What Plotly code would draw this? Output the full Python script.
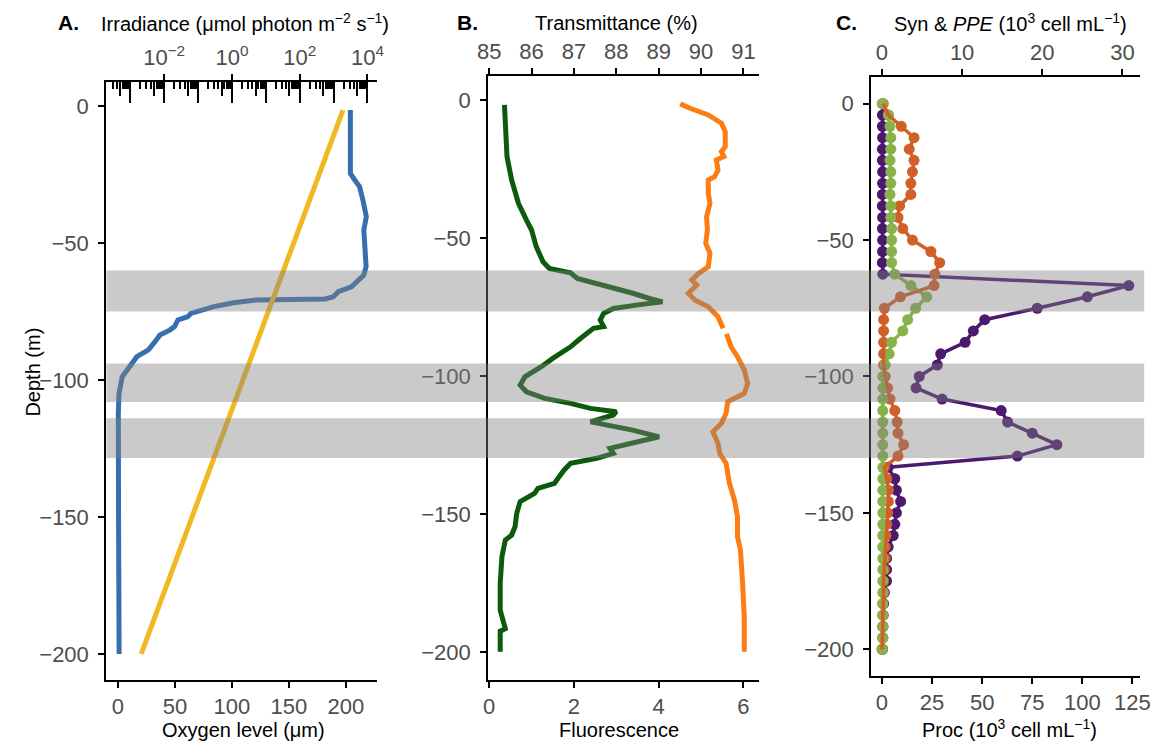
import plotly.graph_objects as go

W, H = 1163, 743
FONT = "Liberation Sans, Arial, sans-serif"
TICKC = "#4D4D4D"

# ---------------- Panel A data ----------------
oxy_depth = [-1.5, -24.6, -27, -29.4, -34.3, -40.4, -45.3, -51.3, -58.6, -61.7, -63.5, -66,
             -67.8, -69.6, -70.4, -70.8, -70.8, -71.8, -73.2, -75.7, -76.9, -78.1, -80.5,
             -81.8, -83.6, -86, -89, -91.5, -94.5, -98.8, -104.9, -112, -150, -200]
oxy_level = [204, 204, 207.8, 212, 215, 218, 215.8, 216.4, 217.8, 215.8, 210.6, 204.9,
             193.4, 189, 182, 147, 121.6, 101.4, 84.2, 64, 61.2, 52.6, 49.7,
             45.4, 36.8, 32.5, 26.7, 16.6, 10.9, 3.7, 0.9, 0.3, 0.5, 1.0]
irr_depth = [-1.5, -200]
irr_value = [1900, 0.0021]

# ---------------- Panel B data ----------------
fl_depth = [-1.8, -10.9, -20.5, -29, -37.4, -43.5, -47.1, -53.1, -58.6, -61, -62.6, -64.6,
            -67.6, -70, -71.9, -73.1, -74.3, -75.5, -77.3, -79.7, -82.1, -82.7, -86.3, -89.4,
            -93.6, -96.6, -100.3, -103.3, -105.7, -108.1, -109.9, -111.7, -112.9, -114.1,
            -116.6, -117.8, -119.6, -122, -124.4, -126.2, -128, -129.8, -131.6, -134, -137.1,
            -138.9, -140.7, -142.5, -145.5, -149.7, -154.6, -157.6, -159.4, -165.5, -175.1,
            -184.8, -191.5, -192.4, -199.9]
fl_value = [0.36, 0.38, 0.42, 0.53, 0.69, 0.88, 1.0, 1.11, 1.27, 1.42, 1.92, 2.08,
            2.85, 3.39, 3.78, 4.09, 3.47, 2.93, 2.70, 2.62, 2.70, 2.46, 2.16, 1.92,
            1.50, 1.23, 0.84, 0.73, 0.88, 1.31, 1.92, 2.39, 3.0, 2.93,
            2.39, 2.85, 3.39, 4.01, 3.31, 2.85, 2.93, 2.54, 1.92, 1.77, 1.62,
            1.54, 1.15, 1.07, 0.73, 0.65, 0.61, 0.53, 0.38, 0.30, 0.26,
            0.26, 0.38, 0.26, 0.26]
tr_depth = [-1.4, -3, -5.4, -8.4, -11.5, -16.9, -18.7, -20.5, -21.7, -25.4, -27.8, -29,
            -33.8, -37.4, -42.3, -47.1, -51.9, -55.5, -60.4, -62.8, -65.2, -67, -70, -72.5,
            -74.9, -78.5, -82.7, None, -84.7, -89.4, -93, -97.8, -102.7, -106.3, -109.3,
            -113.5, -117.1, -120.2, -124.4, -128, -131.6, -138.9, -145, -151, -158.2, -163,
            -175.1, -187.2, -199.9]
tr_value = [89.51, 89.74, 90.17, 90.48, 90.57, 90.57, 90.48, 90.54, 90.36, 90.40, 90.32, 90.17,
            90.17, 90.21, 90.13, 90.15, 90.11, 90.21, 90.17, 89.94, 89.78, 89.90, 89.70, 89.86,
            90.17, 90.40, 90.52, None, 90.60, 90.71, 90.86, 91.02, 91.10, 91.02, 90.63,
            90.59, 90.48, 90.28, 90.40, 90.44, 90.59, 90.67, 90.79, 90.86, 90.86, 90.93,
            90.98, 91.02, 91.02]

# ---------------- Panel C data ----------------
c_depth = [0, -4.2, -8.3, -12.5, -16.7, -20.8, -25, -29.2, -33.3, -37.5, -41.7, -45.8, -50,
           -54.2, -58.3, -62.5, -66.7, -70.8, -75, -79.2, -83.3, -87.5, -91.7, -95.8, -100,
           -104.2, -108.3, -112.5, -116.7, -120.8, -125, -129.2, -133.3, -137.5, -141.7,
           -145.8, -150, -154.2, -158.3, -162.5, -166.7, -170.8, -175, -179.2, -183.3,
           -187.5, -191.7, -195.8, -200]
proc = [0.3, 0.2, 0.2, 0.3, 0.2, 0.2, 0.3, 0.3, 0.2, 0.2, 0.3, 0.2, 0.3,
        0.3, 0.2, 0.4, 123.2, 102.5, 77.5, 51.3, 45.6, 41.5, 29.3, 27.6, 18.6,
        17.0, 30.0, 59.5, 62.7, 75.0, 87.3, 67.6, 3.1, 6.4, 7.2,
        9.3, 7.2, 6.4, 5.6, 3.1, 2.3, 2.3, 2.3, 1.2, 0.8,
        0.6, 0.5, 0.4, 0.3]
syn = [0.04, 0.8, 1.0, 1.1, 1.1, 1.0, 1.1, 1.1, 1.0, 1.1, 1.1, 1.2, 1.2,
       1.2, 1.2, 1.6, 3.6, 5.6, 4.2, 3.2, 2.6, 1.2, 0.9, 0.4, 0.1,
       0.1, 0.1, 0.1, 0.1, 0.1, 0.1, 0.1, 0.1, 0.1, 0.1,
       0.1, 0.1, 0.1, 0.1, 0.1, 0.1, 0.1, 0.1, 0.1, 0.1,
       0.1, 0.1, 0.1, 0.05]
ppe = [0.16, 0.8, 2.4, 4.0, 3.4, 4.0, 3.8, 3.6, 3.6, 2.2, 2.0, 2.6, 3.8,
       6.1, 7.2, 6.6, 6.5, 2.3, 0.3, 0.2, 0.2, 0.2, 0.2, 0.2, 0.4,
       0.7, 1.0, 1.6, 1.9, 2.0, 2.7, 2.0, 0.3, 0.6, 0.8,
       0.8, 0.7, 0.6, 0.5, 0.4, 0.4, 0.3, 0.2, 0.2, 0.1,
       0.1, 0.1, 0.1, 0.0]

bands = [(-75, -60), (-108, -94), (-128.5, -114)]

# tick labels
irr_tickvals = [1e-2, 1e0, 1e2, 1e4]
irr_ticktext = ["10<sup>−2</sup>", "10<sup>0</sup>", "10<sup>2</sup>", "10<sup>4</sup>"]
tr_ticks = [85, 86, 87, 88, 89, 90, 91]
syn_ticks = [0, 10, 20, 30]
proc_ticks = [0, 25, 50, 75, 100, 125]
oxy_ticks = [0, 50, 100, 150, 200]
fl_ticks = [0, 2, 4, 6]
depth_ticks = [0, -50, -100, -150, -200]


def fx(p):
    return p / W


def fy(p):
    return 1 - p / H


PURPLE, GREEN, ORANGE = "#4B196E", "#8AB24B", "#D25F28"

fig = go.Figure()

# Panel A
fig.add_trace(go.Scatter(x=oxy_level, y=oxy_depth, mode="lines", xaxis="x", yaxis="y",
                         line=dict(color="#376EAF", width=5), showlegend=False))
fig.add_trace(go.Scatter(x=irr_value, y=irr_depth, mode="lines", xaxis="x2", yaxis="y",
                         line=dict(color="#F0B923", width=5), showlegend=False))
# empty holders so that the log-tick axes are drawn
for ax in ("x3", "x4", "x5"):
    fig.add_trace(go.Scatter(x=[], y=[], xaxis=ax, yaxis="y", mode="lines",
                             showlegend=False, hoverinfo="skip"))
# Panel B
fig.add_trace(go.Scatter(x=fl_value, y=fl_depth, mode="lines", xaxis="x6", yaxis="y2",
                         line=dict(color="#0C5A0C", width=5), showlegend=False))
fig.add_trace(go.Scatter(x=tr_value, y=tr_depth, mode="lines", xaxis="x7", yaxis="y2",
                         line=dict(color="#FB7D14", width=5), showlegend=False,
                         connectgaps=False))
# Panel C : points first, lines on top
fig.add_trace(go.Scatter(x=proc, y=c_depth, mode="markers", xaxis="x8", yaxis="y3",
                         marker=dict(color=PURPLE, size=11), showlegend=False))
fig.add_trace(go.Scatter(x=proc, y=c_depth, mode="lines", xaxis="x8", yaxis="y3",
                         line=dict(color=PURPLE, width=3.5), showlegend=False))
fig.add_trace(go.Scatter(x=ppe, y=c_depth, mode="markers", xaxis="x9", yaxis="y3",
                         marker=dict(color=ORANGE, size=11), showlegend=False))
fig.add_trace(go.Scatter(x=syn, y=c_depth, mode="markers", xaxis="x9", yaxis="y3",
                         marker=dict(color=GREEN, size=11), showlegend=False))
fig.add_trace(go.Scatter(x=syn, y=c_depth, mode="lines", xaxis="x9", yaxis="y3",
                         line=dict(color=GREEN, width=3.5), showlegend=False))
fig.add_trace(go.Scatter(x=ppe, y=c_depth, mode="lines", xaxis="x9", yaxis="y3",
                         line=dict(color=ORANGE, width=3.5), showlegend=False))

tickfont = dict(family=FONT, size=22, color=TICKC)
common = dict(showgrid=False, zeroline=False, showline=True, linecolor="black", linewidth=2,
              ticks="outside", ticklen=6, tickwidth=1.8, tickcolor="black", tickfont=tickfont)
ycommon = dict(common, ticklabelstandoff=5)

domA = [fx(97), fx(373)]
domB = [fx(486), fx(762)]
domC = [fx(876), fx(1150)]

irr_range = [-3.71, 4.29]
dec_ticks = [10.0 ** k for k in range(-3, 5)]
mid_ticks = [5 * 10.0 ** k for k in range(-4, 4)]
small_ticks = [m * 10.0 ** k for k in range(-4, 4) for m in (2, 3, 4, 6, 7, 8, 9)]

inner = dict(overlaying="x", anchor="y", side="top", type="log", range=irr_range,
             showticklabels=False, showgrid=False, zeroline=False, showline=False,
             ticks="inside", tickwidth=1.8, tickcolor="black")

layout_axes = dict(
    xaxis=dict(domain=domA, anchor="y", range=[-10.3, 227.6], tickvals=oxy_ticks, **common),
    xaxis2=dict(overlaying="x", anchor="y", side="top", type="log", range=irr_range,
                tickvals=irr_tickvals, ticktext=irr_ticktext, **common),
    xaxis3=dict(inner, tickvals=dec_ticks, ticklen=21),
    xaxis4=dict(inner, tickvals=mid_ticks, ticklen=14),
    xaxis5=dict(inner, tickvals=small_ticks, ticklen=7),
    yaxis=dict(domain=[fy(680), fy(82)], anchor="x", range=[-209.5, 8.76],
               tickvals=depth_ticks, **ycommon),
    xaxis6=dict(domain=domB, anchor="y2", range=[-0.023, 6.373], tickvals=fl_ticks, **common),
    xaxis7=dict(overlaying="x6", anchor="y2", side="top", range=[84.977, 91.373],
                tickvals=tr_ticks, **common),
    yaxis2=dict(domain=[fy(680), fy(76)], anchor="x6", range=[-210.1, 8.7],
                tickvals=depth_ticks, **ycommon),
    xaxis8=dict(domain=domC, anchor="y3", range=[-5.39, 128.9], tickvals=proc_ticks, **common),
    xaxis9=dict(overlaying="x8", anchor="y3", side="top", range=[-1.348, 32.225],
                tickvals=syn_ticks, **common),
    yaxis3=dict(domain=[fy(676), fy(77)], anchor="x8", range=[-209.8, 9.76],
                tickvals=depth_ticks, **ycommon),
)

shapes = []
for lo, hi in bands:
    shapes.append(dict(type="rect", xref="paper", yref="y", x0=fx(97), x1=fx(1154),
                       y0=lo, y1=hi, fillcolor="rgba(128,128,128,0.42)", line=dict(width=0),
                       layer="above"))


def ann(text, xp, yp, size=20, color="black", angle=0, xanchor="center"):
    return dict(text=text, x=fx(xp), y=fy(yp), xref="paper", yref="paper", showarrow=False,
                xanchor=xanchor, yanchor="middle", textangle=angle,
                font=dict(family=FONT, size=size, color=color))


annotations = [
    ann("<b>A.</b>", 59, 23, size=21),
    ann("Irradiance (μmol photon m<sup>−2</sup> s<sup>−1</sup>)", 238, 23),
    ann("<b>B.</b>", 465, 23, size=21),
    ann("Transmittance (%)", 617, 23),
    ann("<b>C.</b>", 851, 23, size=21),
    ann("Syn &amp; <i>PPE</i> (10<sup>3</sup> cell mL<sup>−1</sup>)", 1018, 23),
    ann("Oxygen level (μm)", 237, 730),
    ann("Fluorescence", 619, 730),
    ann("Proc (10<sup>3</sup> cell mL<sup>−1</sup>)", 1017, 728),
    ann("Depth (m)", 22, 372, angle=-90),
]

fig.update_layout(width=W, height=H, margin=dict(l=0, r=0, t=0, b=0),
                  paper_bgcolor="white", plot_bgcolor="white",
                  font=dict(family=FONT, size=20, color="black"),
                  shapes=shapes, annotations=annotations, **layout_axes)

fig.write_html("out.html")
